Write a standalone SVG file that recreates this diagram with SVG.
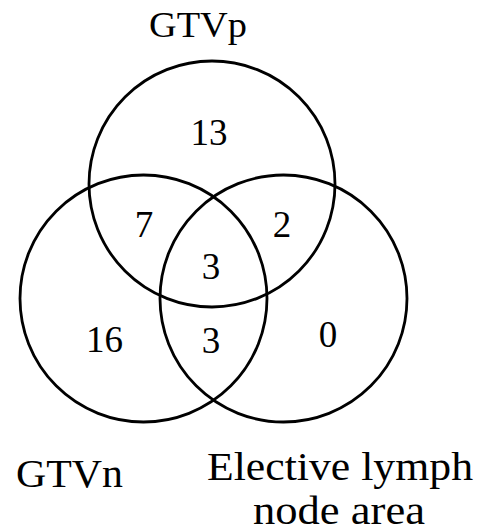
<svg xmlns="http://www.w3.org/2000/svg" width="481" height="532" viewBox="0 0 481 532">
<style>
.c{fill:none;stroke:#000;stroke-width:2.8}
.t{font-family:"Liberation Serif","Times New Roman",serif;fill:#000;text-anchor:middle}
.n{font-size:37px}
.l{font-size:41px}
</style>
<rect width="481" height="532" fill="#fff"/>
<g id="gtvp"><circle class="c" cx="212" cy="184" r="123"/><text class="t" x="198" y="37" font-size="35" textLength="98" lengthAdjust="spacingAndGlyphs">GTVp</text></g>
<g id="gtvn"><circle class="c" cx="143.5" cy="298.5" r="123.5"/><text class="t l" x="69.5" y="487" textLength="107" lengthAdjust="spacingAndGlyphs">GTVn</text></g>
<g id="elective"><circle class="c" cx="283.5" cy="298.5" r="123.5"/><text class="t l" x="340" y="480" textLength="266" lengthAdjust="spacingAndGlyphs">Elective lymph</text><text class="t l" x="339" y="524" textLength="172" lengthAdjust="spacingAndGlyphs">node area</text></g>
<g id="counts">
<text class="t n" x="209" y="145">13</text>
<text class="t n" x="144" y="237">7</text>
<text class="t n" x="282" y="237">2</text>
<text class="t n" x="211" y="279">3</text>
<text class="t n" x="104.5" y="352">16</text>
<text class="t n" x="211" y="353">3</text>
<text class="t n" x="328" y="347">0</text>
</g>
<g id="connectors"></g>
</svg>
